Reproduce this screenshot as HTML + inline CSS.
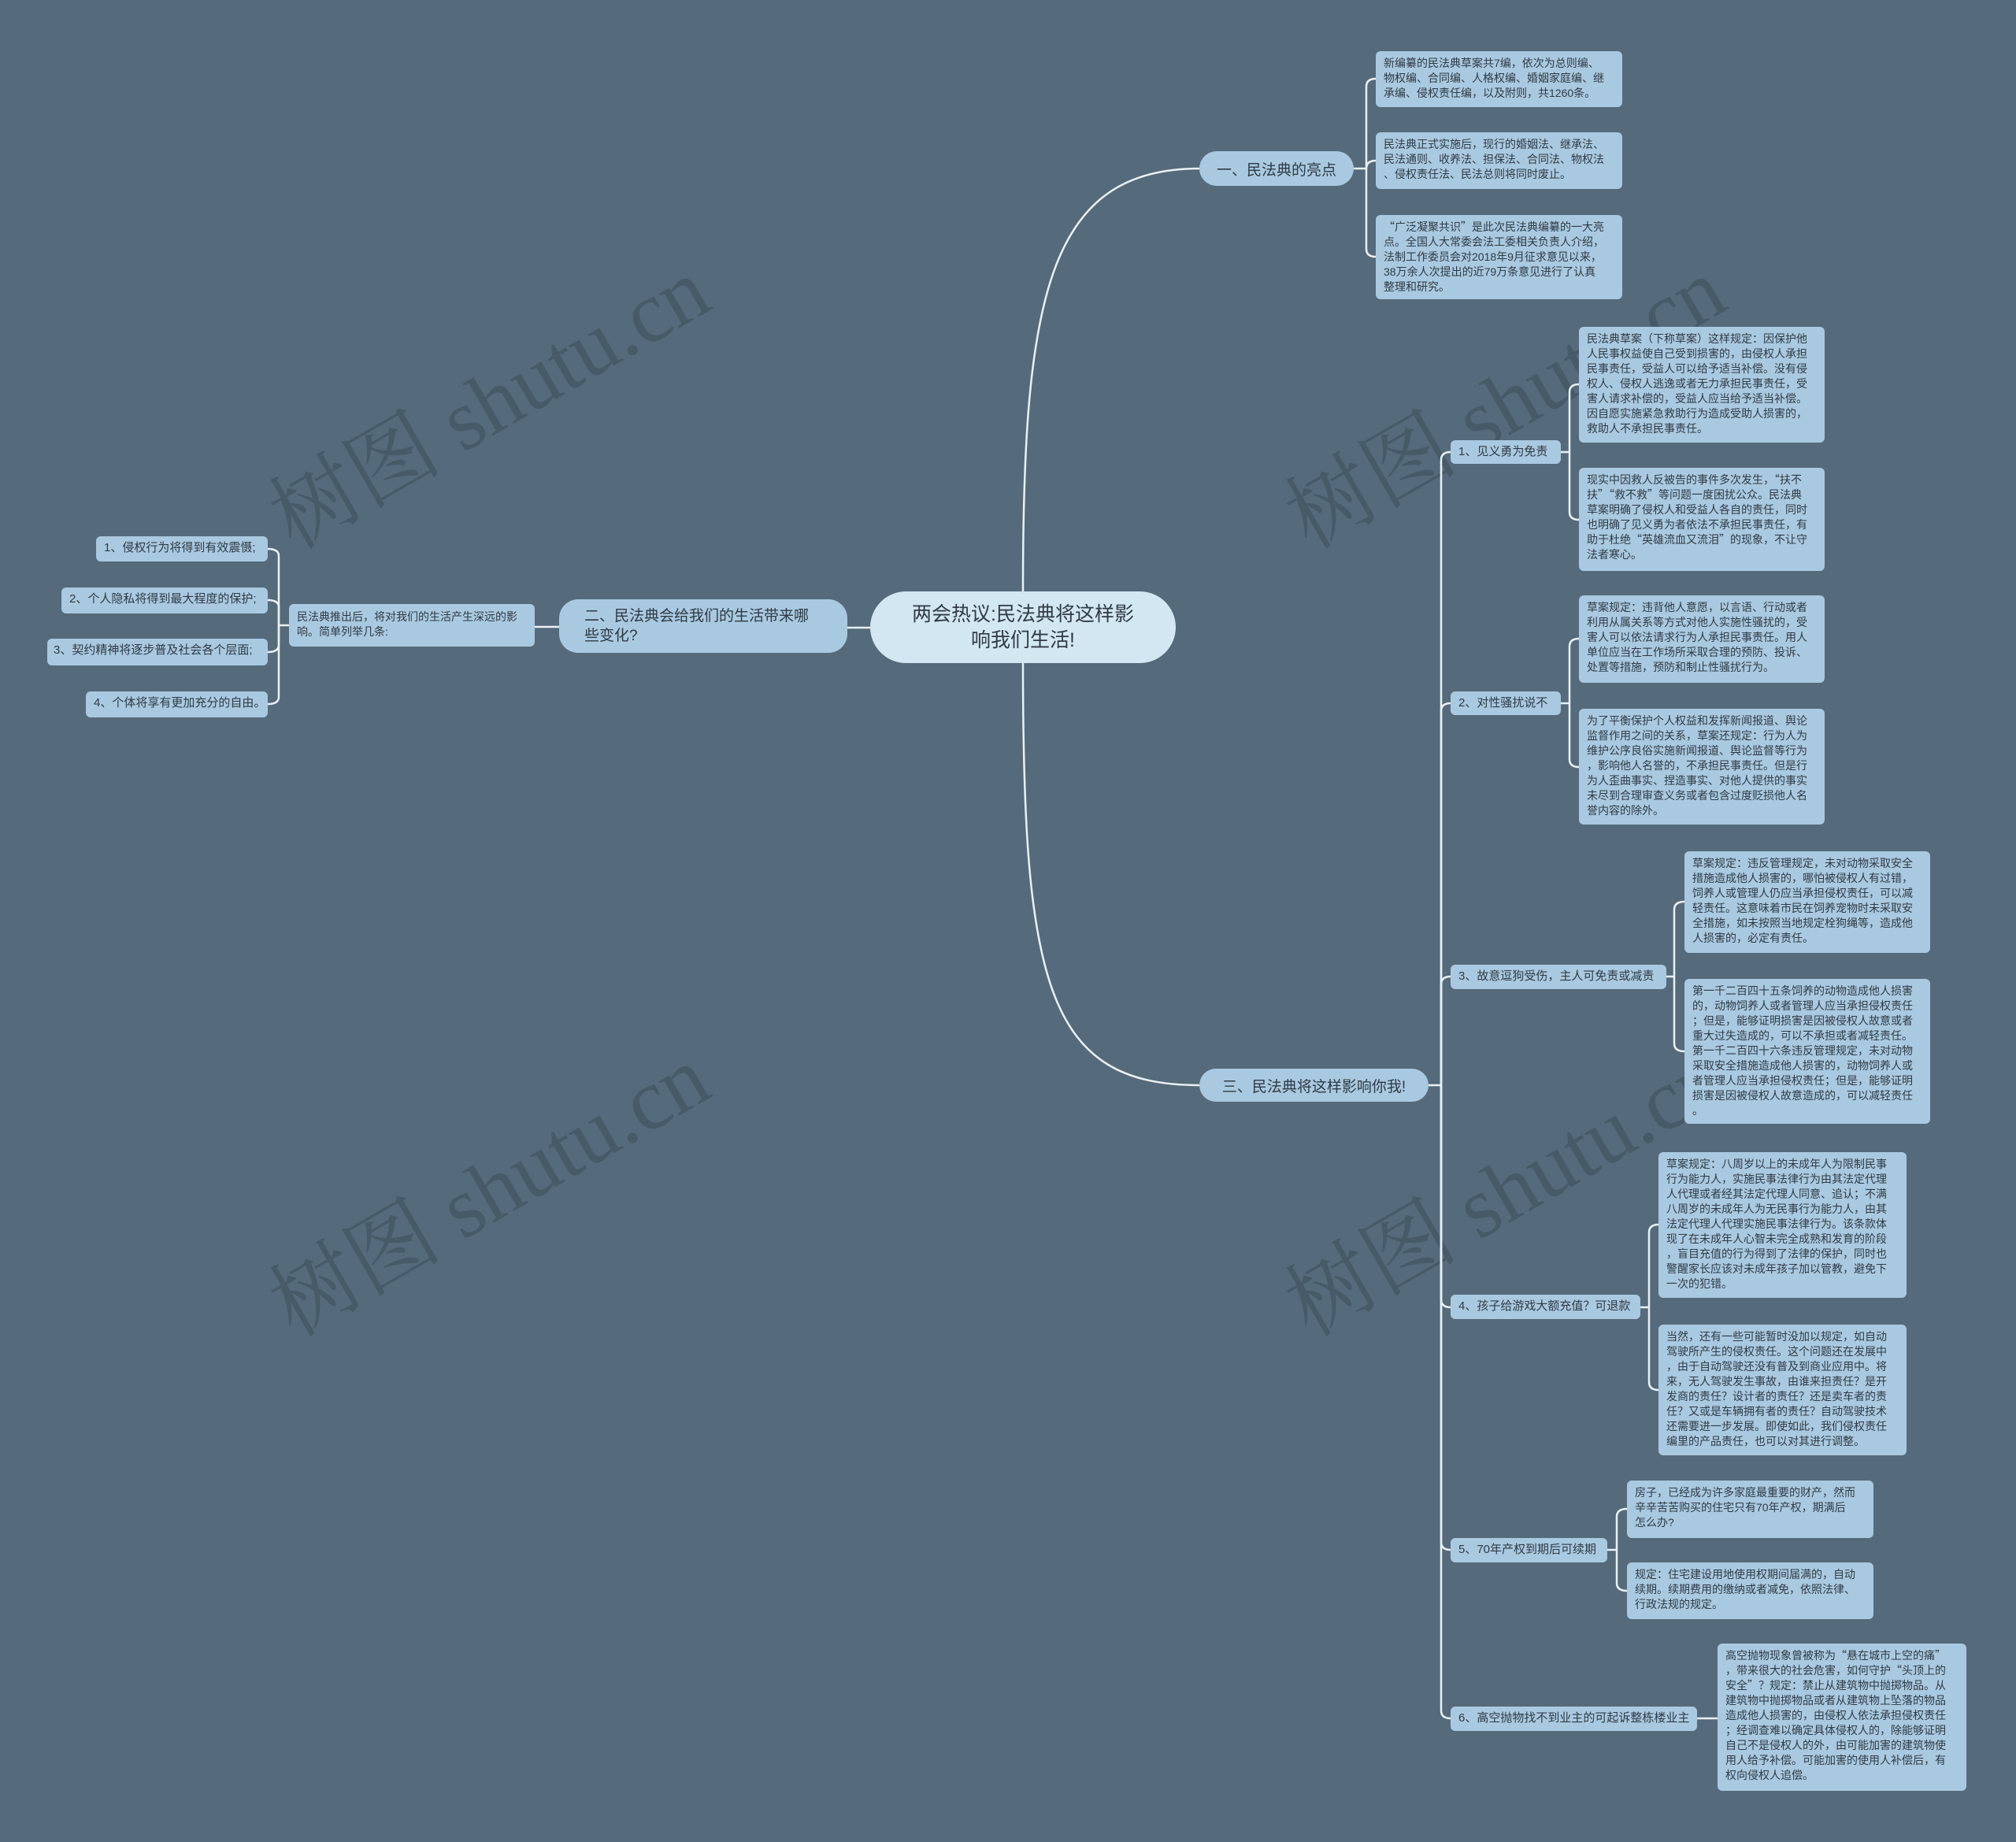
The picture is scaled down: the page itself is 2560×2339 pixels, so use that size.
<!DOCTYPE html>
<html><head><meta charset="utf-8">
<style>
html,body{margin:0;padding:0}
body{width:2560px;height:2339px;background:#556a7a;position:relative;overflow:hidden;font-family:"Liberation Sans","Noto Sans CJK SC",sans-serif;color:#2f3a44}
.n{position:absolute;background:#a9c9e0;border-radius:6px;box-sizing:border-box;white-space:nowrap}
.leaf{font-size:14px;line-height:19px;padding:6px 0 0 10px}
.sub{font-size:15px;line-height:30px;padding:0 0 0 10px}
.main{font-size:19px;border-radius:24px;display:flex;align-items:center;justify-content:center}
.wm{position:absolute;font-family:"Liberation Serif","Noto Serif CJK SC",serif;font-size:110px;color:rgba(40,55,68,0.32);transform:rotate(-30deg);transform-origin:left top;white-space:nowrap}
.q{font-family:"Noto Sans CJK SC",sans-serif}
svg{position:absolute;left:0;top:0}
</style></head><body>
<div class="wm" style="left:310px;top:590px">树图 shutu.cn</div>
<div class="wm" style="left:310px;top:1590px">树图 shutu.cn</div>
<div class="wm" style="left:1600px;top:590px">树图 shutu.cn</div>
<div class="wm" style="left:1600px;top:1590px">树图 shutu.cn</div>

<svg width="2560" height="2339" fill="none" stroke="#e9f1f6" stroke-width="2.5">
<path d="M1299,751 C1299,380 1330,214 1523,214"/>
<path d="M1299,842 C1299,1250 1330,1378 1523,1378"/>
<path d="M1105,797 L1076,797"/>
<path d="M710,796 L679,796"/>
<path d="M367,794 L354,794"/>
<path d="M354,794 L354,706 Q354,697 340,697"/>
<path d="M354,794 L354,771 Q354,762 340,762"/>
<path d="M354,794 L354,819 Q354,828 340,828"/>
<path d="M354,794 L354,885 Q354,894 340,894"/>
<path d="M1719,214 L1735,214"/>
<path d="M1735,214 L1735,110 Q1735,100 1747,100"/>
<path d="M1735,214 L1735,214 Q1735,204 1747,204"/>
<path d="M1735,214 L1735,316 Q1735,326 1747,326"/>
<path d="M1814,1378 L1830,1378"/>
<path d="M1830,1378 L1830,584 Q1830,574 1842,574"/>
<path d="M1830,1378 L1830,903 Q1830,893 1842,893"/>
<path d="M1830,1378 L1830,1250 Q1830,1240 1842,1240"/>
<path d="M1830,1378 L1830,1650 Q1830,1660 1842,1660"/>
<path d="M1830,1378 L1830,1958 Q1830,1968 1842,1968"/>
<path d="M1830,1378 L1830,2172 Q1830,2182 1842,2182"/>
<path d="M1982,574 L1993,574 M1993,574 L1993,498 Q1993,488 2005,488 M1993,574 L1993,650 Q1993,660 2005,660"/>
<path d="M1982,893 L1993,893 M1993,893 L1993,821 Q1993,811 2005,811 M1993,893 L1993,964 Q1993,974 2005,974"/>
<path d="M2116,1240 L2126,1240 M2126,1240 L2126,1155 Q2126,1145 2139,1145 M2126,1240 L2126,1325 Q2126,1335 2139,1335"/>
<path d="M2083,1660 L2094,1660 M2094,1660 L2094,1565 Q2094,1555 2106,1555 M2094,1660 L2094,1755 Q2094,1765 2106,1765"/>
<path d="M2041,1968 L2053,1968 M2053,1968 L2053,1926 Q2053,1916 2066,1916 M2053,1968 L2053,2010 Q2053,2020 2066,2020"/>
<path d="M2155,2182 L2181,2182"/>
</svg>

<div class="n main" style="left:1105px;top:751px;width:388px;height:91px;background:#d3e7f3;border-radius:46px;font-size:25px;line-height:33px;text-align:center;white-space:normal">两会热议:民法典将这样影<br>响我们生活!</div>
<div class="n main" style="left:1523px;top:192px;width:196px;height:44px">一、民法典的亮点</div>
<div class="n main" style="left:710px;top:761px;width:366px;height:68px;justify-content:flex-start;padding-left:32px;line-height:25px;white-space:normal">二、民法典会给我们的生活带来哪<br>些变化?</div>
<div class="n main" style="left:1523px;top:1357px;width:291px;height:42px">三、民法典将这样影响你我!</div>

<div class="n leaf" style="left:367px;top:767px;width:312px;height:54px;font-size:14px;padding-top:7px">民法典推出后，将对我们的生活产生深远的影<br>响。简单列举几条:</div>
<div class="n sub" style="left:122px;top:681px;width:218px;height:32px;padding-left:10px">1、侵权行为将得到有效震慑;</div>
<div class="n sub" style="left:78px;top:746px;width:262px;height:33px;padding-left:10px">2、个人隐私将得到最大程度的保护;</div>
<div class="n sub" style="left:60px;top:811px;width:280px;height:34px;padding-left:8px">3、契约精神将逐步普及社会各个层面;</div>
<div class="n sub" style="left:109px;top:878px;width:231px;height:33px;padding-left:10px">4、个体将享有更加充分的自由。</div>

<div class="n leaf" style="left:1747px;top:65px;width:313px;height:71px">新编纂的民法典草案共7编，依次为总则编、<br>物权编、合同编、人格权编、婚姻家庭编、继<br>承编、侵权责任编，以及附则，共1260条。</div>
<div class="n leaf" style="left:1747px;top:168px;width:313px;height:72px">民法典正式实施后，现行的婚姻法、继承法、<br>民法通则、收养法、担保法、合同法、物权法<br>、侵权责任法、民法总则将同时废止。</div>
<div class="n leaf" style="left:1747px;top:273px;width:313px;height:107px"><span class="q">“</span>广泛凝聚共识<span class="q">”</span>是此次民法典编纂的一大亮<br>点。全国人大常委会法工委相关负责人介绍，<br>法制工作委员会对2018年9月征求意见以来，<br>38万余人次提出的近79万条意见进行了认真<br>整理和研究。</div>

<div class="n sub" style="left:1842px;top:559px;width:140px;height:30px">1、见义勇为免责</div>
<div class="n sub" style="left:1842px;top:878px;width:140px;height:30px">2、对性骚扰说不</div>
<div class="n sub" style="left:1842px;top:1225px;width:274px;height:31px">3、故意逗狗受伤，主人可免责或减责</div>
<div class="n sub" style="left:1842px;top:1644px;width:241px;height:31px">4、孩子给游戏大额充值？可退款</div>
<div class="n sub" style="left:1842px;top:1953px;width:199px;height:31px">5、70年产权到期后可续期</div>
<div class="n sub" style="left:1842px;top:2167px;width:313px;height:31px">6、高空抛物找不到业主的可起诉整栋楼业主</div>

<div class="n leaf" style="left:2005px;top:415px;width:312px;height:147px">民法典草案（下称草案）这样规定：因保护他<br>人民事权益使自己受到损害的，由侵权人承担<br>民事责任，受益人可以给予适当补偿。没有侵<br>权人、侵权人逃逸或者无力承担民事责任，受<br>害人请求补偿的，受益人应当给予适当补偿。<br>因自愿实施紧急救助行为造成受助人损害的，<br>救助人不承担民事责任。</div>
<div class="n leaf" style="left:2005px;top:594px;width:312px;height:131px">现实中因救人反被告的事件多次发生，<span class="q">“</span>扶不<br>扶<span class="q">”“</span>救不救<span class="q">”</span>等问题一度困扰公众。民法典<br>草案明确了侵权人和受益人各自的责任，同时<br>也明确了见义勇为者依法不承担民事责任，有<br>助于杜绝<span class="q">“</span>英雄流血又流泪<span class="q">”</span>的现象，不让守<br>法者寒心。</div>
<div class="n leaf" style="left:2005px;top:756px;width:312px;height:111px">草案规定：违背他人意愿，以言语、行动或者<br>利用从属关系等方式对他人实施性骚扰的，受<br>害人可以依法请求行为人承担民事责任。用人<br>单位应当在工作场所采取合理的预防、投诉、<br>处置等措施，预防和制止性骚扰行为。</div>
<div class="n leaf" style="left:2005px;top:900px;width:312px;height:147px">为了平衡保护个人权益和发挥新闻报道、舆论<br>监督作用之间的关系，草案还规定：行为人为<br>维护公序良俗实施新闻报道、舆论监督等行为<br>，影响他人名誉的，不承担民事责任。但是行<br>为人歪曲事实、捏造事实、对他人提供的事实<br>未尽到合理审查义务或者包含过度贬损他人名<br>誉内容的除外。</div>
<div class="n leaf" style="left:2139px;top:1081px;width:312px;height:129px">草案规定：违反管理规定，未对动物采取安全<br>措施造成他人损害的，哪怕被侵权人有过错，<br>饲养人或管理人仍应当承担侵权责任，可以减<br>轻责任。这意味着市民在饲养宠物时未采取安<br>全措施，如未按照当地规定栓狗绳等，造成他<br>人损害的，必定有责任。</div>
<div class="n leaf" style="left:2139px;top:1243px;width:312px;height:184px">第一千二百四十五条饲养的动物造成他人损害<br>的，动物饲养人或者管理人应当承担侵权责任<br>；但是，能够证明损害是因被侵权人故意或者<br>重大过失造成的，可以不承担或者减轻责任。<br>第一千二百四十六条违反管理规定，未对动物<br>采取安全措施造成他人损害的，动物饲养人或<br>者管理人应当承担侵权责任；但是，能够证明<br>损害是因被侵权人故意造成的，可以减轻责任<br>。</div>
<div class="n leaf" style="left:2106px;top:1463px;width:315px;height:185px">草案规定：八周岁以上的未成年人为限制民事<br>行为能力人，实施民事法律行为由其法定代理<br>人代理或者经其法定代理人同意、追认；不满<br>八周岁的未成年人为无民事行为能力人，由其<br>法定代理人代理实施民事法律行为。该条款体<br>现了在未成年人心智未完全成熟和发育的阶段<br>，盲目充值的行为得到了法律的保护，同时也<br>警醒家长应该对未成年孩子加以管教，避免下<br>一次的犯错。</div>
<div class="n leaf" style="left:2106px;top:1682px;width:315px;height:166px">当然，还有一些可能暂时没加以规定，如自动<br>驾驶所产生的侵权责任。这个问题还在发展中<br>，由于自动驾驶还没有普及到商业应用中。将<br>来，无人驾驶发生事故，由谁来担责任？是开<br>发商的责任？设计者的责任？还是卖车者的责<br>任？又或是车辆拥有者的责任？自动驾驶技术<br>还需要进一步发展。即使如此，我们侵权责任<br>编里的产品责任，也可以对其进行调整。</div>
<div class="n leaf" style="left:2066px;top:1880px;width:313px;height:73px">房子，已经成为许多家庭最重要的财产，然而<br>辛辛苦苦购买的住宅只有70年产权，期满后<br>怎么办?</div>
<div class="n leaf" style="left:2066px;top:1984px;width:313px;height:72px">规定：住宅建设用地使用权期间届满的，自动<br>续期。续期费用的缴纳或者减免，依照法律、<br>行政法规的规定。</div>
<div class="n leaf" style="left:2181px;top:2087px;width:316px;height:187px">高空抛物现象曾被称为<span class="q">“</span>悬在城市上空的痛<span class="q">”</span><br>，带来很大的社会危害，如何守护<span class="q">“</span>头顶上的<br>安全<span class="q">”</span>？规定：禁止从建筑物中抛掷物品。从<br>建筑物中抛掷物品或者从建筑物上坠落的物品<br>造成他人损害的，由侵权人依法承担侵权责任<br>；经调查难以确定具体侵权人的，除能够证明<br>自己不是侵权人的外，由可能加害的建筑物使<br>用人给予补偿。可能加害的使用人补偿后，有<br>权向侵权人追偿。</div>
</body></html>
